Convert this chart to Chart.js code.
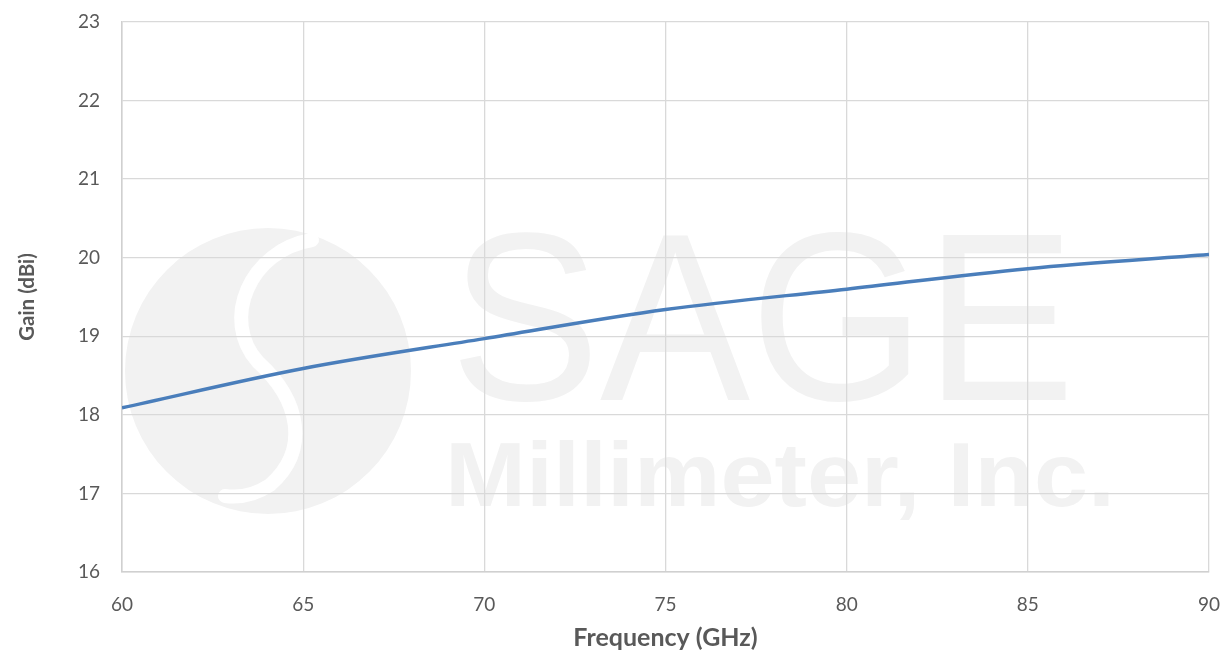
<!DOCTYPE html>
<html>
<head>
<meta charset="utf-8">
<script src="https://cdn.jsdelivr.net/npm/chart.js@4.4.1/dist/chart.umd.min.js"></script>
<style>
  html, body { margin: 0; padding: 0; background: #ffffff; }
  #wrap { width: 1229px; height: 656px; }
</style>
</head>
<body>
<div id="wrap"><canvas id="grafico"></canvas></div>
<script>
// valores
var frequencias = [60, 65, 70, 75, 80, 85, 90];
var ganho = [18.09, 18.59, 18.97, 19.34, 19.60, 19.86, 20.04];
var ticksX = [60, 65, 70, 75, 80, 85, 90];
var ticksY = [16, 17, 18, 19, 20, 21, 22, 23];

var corTexto = "#595959";
var corGrade = "#d9d9d9";

// marca d'agua (logo) desenhada antes da grade
var marcaDagua = {
  id: "marcaDagua",
  beforeDraw: function (chart) {
    var ctx = chart.ctx;
    ctx.save();
    ctx.fillStyle = "#f2f2f2";

    // circulo do logo
    ctx.beginPath();
    ctx.arc(268, 371, 143, 0, Math.PI * 2);
    ctx.fill();

    // curva branca em S
    ctx.strokeStyle = "#ffffff";
    ctx.lineCap = "round";
    ctx.lineWidth = 14;
    ctx.beginPath();
    ctx.moveTo(312, 240);
    ctx.bezierCurveTo(250, 250, 220, 320, 258, 362);
    ctx.bezierCurveTo(300, 400, 310, 450, 270, 485);
    ctx.bezierCurveTo(255, 495, 240, 498, 225, 496);
    ctx.stroke();

    // texto SAGE
    ctx.fillStyle = "#f2f2f2";
    ctx.textBaseline = "alphabetic";
    ctx.font = "240px 'Liberation Sans'";
    var w1 = ctx.measureText("SAGE").width;
    ctx.translate(450, 400);
    ctx.scale(625 / w1, 1);
    ctx.fillText("SAGE", 0, 0);
    ctx.setTransform(1, 0, 0, 1, 0, 0);
    ctx.scale(chart.currentDevicePixelRatio, chart.currentDevicePixelRatio);

    ctx.font = "bold 91px 'Liberation Sans'";
    var w2 = ctx.measureText("Millimeter, Inc.").width;
    ctx.translate(445, 506);
    ctx.scale(670 / w2, 1);
    ctx.fillText("Millimeter, Inc.", 0, 0);
    ctx.restore();
  }
};

var ctx1 = document.getElementById("grafico").getContext("2d");

var grafico = new Chart(ctx1, {
  type: "line",
  data: {
    datasets: [
      {
        label: "Gain",
        data: frequencias.map(function (f, i) { return { x: f, y: ganho[i] }; }),
        borderColor: "#4a7ebb",
        borderWidth: 3.5,
        pointRadius: 0,
        cubicInterpolationMode: "monotone",
        fill: false,
      },
    ],
  },
  options: {
    responsive: true,
    maintainAspectRatio: false,
    animation: false,
    layout: {
      padding: { top: 22, right: 20, left: 0, bottom: 0 },
    },
    plugins: {
      legend: { display: false },
      tooltip: { enabled: false },
    },
    scales: {
      x: {
        type: "linear",
        min: 60,
        max: 90,
        afterBuildTicks: function (scale) {
          scale.ticks = ticksX.map(function (v) { return { value: v }; });
        },
        afterFit: function (scale) {
          scale.height = 84;
          scale.paddingLeft = 0;
          scale.paddingRight = 0;
        },
        grid: {
          color: corGrade,
          lineWidth: 1.3,
          drawTicks: false,
        },
        border: { color: "#d0d0d0", width: 1.5 },
        ticks: {
          color: corTexto,
          padding: 21,
          maxRotation: 0,
          font: { size: 19, family: "Lato" },
        },
        title: {
          display: true,
          text: "Frequency (GHz)",
          color: corTexto,
          padding: { top: 0, bottom: 3 },
          font: { size: 25, weight: "bold", family: "Lato" },
        },
      },
      y: {
        min: 16,
        max: 23,
        afterBuildTicks: function (scale) {
          scale.ticks = ticksY.map(function (v) { return { value: v }; });
        },
        afterFit: function (scale) {
          scale.width = 122;
          scale.paddingTop = 0;
          scale.paddingBottom = 0;
        },
        grid: {
          color: corGrade,
          lineWidth: 1.3,
          drawTicks: false,
        },
        border: { color: "#d0d0d0", width: 1.5 },
        ticks: {
          color: corTexto,
          padding: 22,
          font: { size: 19, family: "Lato" },
        },
        title: {
          display: true,
          text: "Gain (dBi)",
          color: corTexto,
          padding: { top: 15, bottom: 0 },
          font: { size: 20.5, weight: "bold", family: "Lato" },
        },
      },
    },
  },
  plugins: [marcaDagua],
});
</script>
</body>
</html>
